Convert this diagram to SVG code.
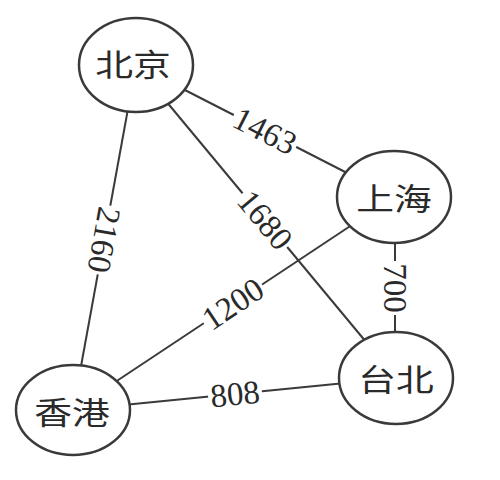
<svg xmlns="http://www.w3.org/2000/svg" width="500" height="480" viewBox="0 0 500 480">
<style>
.edge{stroke:#3a3a3a;stroke-width:2;fill:none}
.node ellipse{fill:#fff;stroke:#3a3a3a;stroke-width:2.5}
.name{font-family:"Noto Sans CJK SC","Noto Sans CJK JP",sans-serif;font-size:31px;fill:#2a2a2a;text-anchor:middle;dominant-baseline:central}
.w{font-family:"Liberation Serif",serif;font-size:33px;fill:#2a2a2a;text-anchor:middle;dominant-baseline:central}
.bg{fill:#fff}
</style>
<rect width="500" height="480" fill="#fff"/>
<g id="connectors">
<line class="edge" x1="136" y1="65" x2="394" y2="197"/>
<line class="edge" x1="136" y1="65" x2="73" y2="410"/>
<line class="edge" x1="136" y1="65" x2="396" y2="378"/>
<line class="edge" x1="394" y1="197" x2="73" y2="410"/>
<line class="edge" x1="395" y1="197" x2="395" y2="378"/>
<line class="edge" x1="73" y1="410" x2="396" y2="378"/>
<g transform="translate(265,131) rotate(27.1)"><rect class="bg" x="-35" y="-12" width="70" height="24"/><text class="w">1463</text></g>
<g transform="translate(104,240) rotate(100.3)"><rect class="bg" x="-35" y="-12" width="70" height="24"/><text class="w">2160</text></g>
<g transform="translate(265,220) rotate(50.3)"><rect class="bg" x="-35" y="-12" width="70" height="24"/><text class="w">1680</text></g>
<g transform="translate(233,304) rotate(-33.6)"><rect class="bg" x="-35" y="-12" width="70" height="24"/><text class="w">1200</text></g>
<g transform="translate(395,288) rotate(90)"><rect class="bg" x="-27" y="-12" width="54" height="24"/><text class="w">700</text></g>
<g transform="translate(235,394) rotate(-5.7)"><rect class="bg" x="-27" y="-12" width="54" height="24"/><text class="w">808</text></g>
</g>
<g id="node-beijing" class="node"><ellipse cx="136" cy="65" rx="57" ry="47"/><text class="name" transform="translate(133,63) scale(1.22,1)">北京</text></g>
<g id="node-shanghai" class="node"><ellipse cx="394" cy="197" rx="57" ry="46"/><text class="name" transform="translate(394,197) scale(1.22,1)">上海</text></g>
<g id="node-taipei" class="node"><ellipse cx="396" cy="378" rx="57" ry="46"/><text class="name" transform="translate(396,378) scale(1.22,1)">台北</text></g>
<g id="node-hongkong" class="node"><ellipse cx="73" cy="410" rx="57" ry="45"/><text class="name" transform="translate(72,411) scale(1.22,1)">香港</text></g>
</svg>
